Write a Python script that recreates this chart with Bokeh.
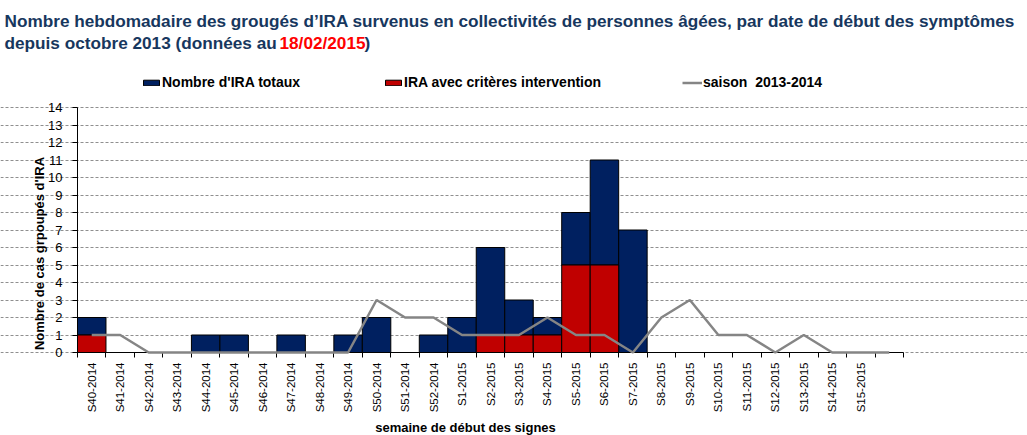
from bokeh.plotting import figure
from bokeh.models import FixedTicker, Label, Legend, LegendItem, Range1d
from bokeh.core.properties import value
from bokeh.embed import file_html
from bokeh.resources import INLINE
import math

# ---------------- data ----------------
semaines = ["S40-2014", "S41-2014", "S42-2014", "S43-2014", "S44-2014", "S45-2014",
            "S46-2014", "S47-2014", "S48-2014", "S49-2014", "S50-2014", "S51-2014",
            "S52-2014", "S1-2015", "S2-2015", "S3-2015", "S4-2015", "S5-2015",
            "S6-2015", "S7-2015", "S8-2015", "S9-2015", "S10-2015", "S11-2015",
            "S12-2015", "S13-2015", "S14-2015", "S15-2015", ""]
ira_totaux = [2, 0, 0, 0, 1, 1, 0, 1, 0, 1, 2, 0, 1, 2, 6, 3, 2, 8, 11, 7,
              0, 0, 0, 0, 0, 0, 0, 0, 0]
ira_criteres = [1, 0, 0, 0, 0, 0, 0, 0, 0, 0, 0, 0, 0, 0, 1, 1, 1, 5, 5, 0,
                0, 0, 0, 0, 0, 0, 0, 0, 0]
saison_2013_2014 = [1, 1, 0, 0, 0, 0, 0, 0, 0, 0, 3, 2, 2, 1, 1, 1, 2, 1, 1, 0,
                    2, 3, 1, 1, 0, 1, 0, 0, 0]
y_ticks = list(range(0, 15))

title_line1 = "Nombre hebdomadaire des grougés d\u2019IRA survenus en collectivités de personnes âgées, par date de début des symptômes"
title_line2 = "depuis octobre 2013 (données au "
title_date = "18/02/2015"
title_end = ")"
y_label = "Nombre de cas grpoupés d'IRA"
x_label = "semaine de début des signes"
legend_labels = ["Nombre d'IRA totaux", "IRA avec critères intervention", "saison  2013-2014"]

# ---------------- style / layout ----------------
NAVY = "#002060"
RED = "#C00000"
GREY = "#858585"
TITLE_COL = "#17375E"
SANS = "Liberation Sans"

W, H = 1027, 435
PL, PR, PT, PB = 77, 903, 107, 352      # plot area in page pixels

n = len(semaines)
xs = list(range(n))
ymax = max(y_ticks)
x0, x1 = -0.5, n - 0.5
ppx = (PR - PL) / (x1 - x0)
ppy = (PB - PT) / ymax
x_range = Range1d(x0 - PL / ppx, x1 + (W - PR) / ppx)
y_range = Range1d(-(H - PB) / ppy, ymax + PT / ppy)

p = figure(width=W, height=H, output_backend="svg", toolbar_location=None,
           x_range=x_range, y_range=y_range, min_border=0, title=None)
p.outline_line_color = None
p.background_fill_color = "white"
p.border_fill_color = "white"

# grid
p.xgrid.grid_line_color = None
p.ygrid.ticker = FixedTicker(ticks=y_ticks)
p.ygrid.bounds = (x0, x1)
p.ygrid.grid_line_color = "#8F8F8F"
p.ygrid.grid_line_dash = "3 2"
p.ygrid.grid_line_width = 1

# bars (stacked)
tot_x = [x for x, t in zip(xs, ira_totaux) if t > 0]
tot_b = [c for c, t in zip(ira_criteres, ira_totaux) if t > 0]
tot_t = [t for t in ira_totaux if t > 0]
red_x = [x for x, c in zip(xs, ira_criteres) if c > 0]
red_t = [c for c in ira_criteres if c > 0]

r_tot = p.vbar(x=tot_x, bottom=tot_b, top=tot_t, width=1.0, fill_color=NAVY,
               line_color="black", line_width=1)
r_red = p.vbar(x=red_x, bottom=0, top=red_t, width=1.0, fill_color=RED,
               line_color="black", line_width=1)

# axes fixed inside the frame (tick marks only; labels drawn as text below)
xa = p.xaxis[0]
xa.fixed_location = 0
xa.bounds = (x0, x1)
xa.ticker = FixedTicker(ticks=[], minor_ticks=[x - 0.5 for x in range(n + 1)])
xa.major_tick_out = 0
xa.major_tick_in = 0
xa.minor_tick_out = 5
xa.minor_tick_in = 0
xa.minor_tick_line_color = "black"
xa.axis_line_color = "black"

ya = p.yaxis[0]
ya.fixed_location = x0
ya.bounds = (0, ymax)
ya.ticker = FixedTicker(ticks=[], minor_ticks=y_ticks)
ya.major_tick_out = 0
ya.major_tick_in = 0
ya.minor_tick_out = 5
ya.minor_tick_in = 0
ya.minor_tick_line_color = "black"
ya.axis_line_color = "black"

# tick labels
p.text(x=xs, y=[0] * n, text=semaines, angle=math.pi / 2, y_offset=10,
       text_align="right", text_baseline="middle", text_font=value(SANS),
       text_font_size="11.5px", text_color="black")
p.text(x=[x0] * len(y_ticks), y=y_ticks, text=[str(t) for t in y_ticks], x_offset=-15,
       text_align="right", text_baseline="middle", text_font=value(SANS),
       text_font_size="13px", text_color="black")

r_line = p.line(xs, saison_2013_2014, line_color=GREY, line_width=2.5)
r_line.level = "annotation"

# legends (three single-item legends positioned like the original)
legend_specs = [(legend_labels[0], r_tot, 141), (legend_labels[1], r_red, 383),
                (legend_labels[2], r_line, 682)]
for lab_text, rend, lx in legend_specs:
    lg = Legend(items=[LegendItem(label=lab_text, renderers=[rend])],
                location=(lx, H - 90),
                orientation="horizontal", padding=0, margin=0, spacing=0,
                glyph_width=20, glyph_height=7, label_standoff=1,
                label_text_font=SANS, label_text_font_style="bold",
                label_text_font_size="14px", label_text_color="black",
                border_line_color=None, background_fill_alpha=0)
    p.add_layout(lg, "center")

# titles and axis labels (screen units, origin at page bottom-left)
def lab(text, x, y, **kw):
    p.add_layout(Label(x=x, y=H - y, x_units="screen", y_units="screen", text=text, **kw))

tkw = dict(text_font=SANS, text_font_style="bold", text_font_size="17.2px",
           text_baseline="alphabetic")
lab(title_line1, 4, 20, text_color=TITLE_COL, **tkw)
lab(title_line2, 4, 42, text_color=TITLE_COL, **tkw)
lab(title_date, 279, 42, text_color="#FF0000", **tkw)
lab(title_end, 364, 42, text_color=TITLE_COL, **tkw)

lab(y_label, 39, 253, angle=1.5708, text_align="center", text_baseline="middle",
    text_font=SANS, text_font_style="bold", text_font_size="13px", text_color="black")
lab(x_label, 465, 427, text_align="center", text_baseline="alphabetic",
    text_font=SANS, text_font_style="bold", text_font_size="13px", text_color="black")

open("out.html", "w").write(file_html(p, INLINE))
